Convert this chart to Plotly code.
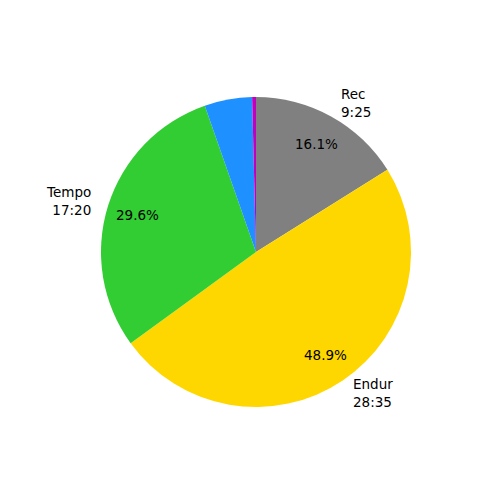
import math
import plotly.graph_objects as go

# Data, clockwise from 12 o'clock
zone_names = ["Rec", "Endur", "Tempo", "", ""]
zone_times = ["9:25", "28:35", "17:20", "", ""]
zone_seconds = [565, 1715, 1040, 174, 14]
zone_colors = ["#808080", "#FFD700", "#32CD32", "#1E90FF", "#BF00BF"]

W = H = 500
page_offset = 8  # browser body margin
cx_px, cy_px, r_px = 256 - page_offset, 252 - page_offset, 155
dom_x = [(cx_px - r_px) / W, (cx_px + r_px) / W]
dom_y = [1 - (cy_px + r_px) / H, 1 - (cy_px - r_px) / H]

fig = go.Figure(go.Pie(
    values=zone_seconds,
    labels=[f"z{i}" for i in range(len(zone_seconds))],
    marker=dict(colors=zone_colors, line=dict(width=0)),
    sort=False,
    direction="clockwise",
    rotation=0,
    textinfo="none",
    hoverinfo="label+percent",
    showlegend=False,
    domain=dict(x=dom_x, y=dom_y),
))

total = sum(zone_seconds)
font = dict(family="DejaVu Sans", size=13.5, color="black")
annotations = []
start = 90.0
for name, t, s in zip(zone_names, zone_times, zone_seconds):
    span = 360.0 * s / total
    mid = math.radians(start - span / 2)
    start -= span
    if not name:
        continue
    c, sn = math.cos(mid), math.sin(mid)
    # label at 1.1 r
    lx = cx_px + 1.1 * r_px * c
    ly = cy_px - 1.1 * r_px * sn
    side = "left" if c > 0 else "right"
    annotations.append(dict(
        x=lx / W, y=1 - ly / H, xref="paper", yref="paper",
        text=f"{name}<br>{t}", showarrow=False,
        xanchor=side, yanchor="middle", align=side, font=font,
    ))
    # percentage at 0.8 r
    px = cx_px + 0.8 * r_px * c
    py = cy_px - 0.8 * r_px * sn
    annotations.append(dict(
        x=px / W, y=1 - py / H, xref="paper", yref="paper",
        text=f"{100.0 * s / total:.1f}%", showarrow=False,
        xanchor="center", yanchor="middle", font=font,
    ))

fig.update_layout(
    width=W, height=H,
    margin=dict(l=0, r=0, t=0, b=0),
    paper_bgcolor="white", plot_bgcolor="white",
    annotations=annotations,
)

fig.write_html("out.html")
